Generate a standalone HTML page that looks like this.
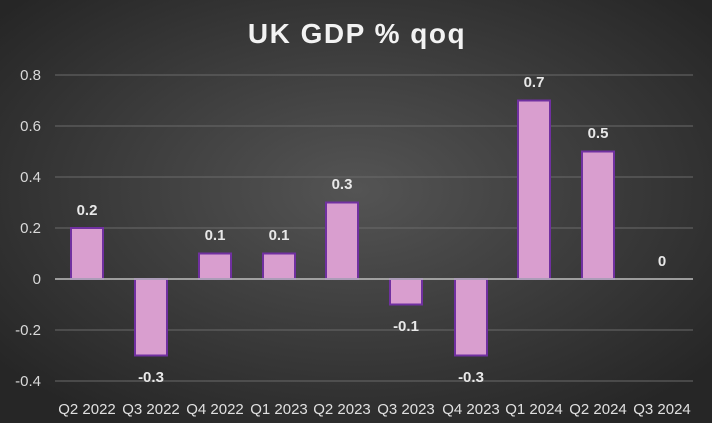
<!DOCTYPE html>
<html><head><style>
body{margin:0;}
svg{display:block;}
text{font-family:"Liberation Sans",Arial,sans-serif;}
</style></head><body>
<svg width="712" height="423" viewBox="0 0 712 423" xmlns="http://www.w3.org/2000/svg">
<defs>
<radialGradient id="bg" cx="50%" cy="45%" r="65%">
<stop offset="0" stop-color="#545454"/>
<stop offset="1" stop-color="#262626"/>
</radialGradient>
</defs>
<rect width="712" height="423" fill="url(#bg)"/>
<text x="357" y="43" text-anchor="middle" font-size="28" font-weight="bold" fill="#f2f2f2" letter-spacing="1.5">UK GDP % qoq</text>
<g stroke="#6a6a6a" stroke-width="1">
<line x1="55" x2="693" y1="75" y2="75"/>
<line x1="55" x2="693" y1="126" y2="126"/>
<line x1="55" x2="693" y1="177" y2="177"/>
<line x1="55" x2="693" y1="228" y2="228"/>
<line x1="55" x2="693" y1="330" y2="330"/>
<line x1="55" x2="693" y1="381" y2="381"/>
</g>
<g font-size="15" fill="#d9d9d9" text-anchor="end">
<text x="41" y="80">0.8</text>
<text x="41" y="131">0.6</text>
<text x="41" y="182">0.4</text>
<text x="41" y="233">0.2</text>
<text x="41" y="284">0</text>
<text x="41" y="335">-0.2</text>
<text x="41" y="386">-0.4</text>
</g>
<g fill="#d99ecf" stroke="#7030a0" stroke-width="2">
<rect x="71" y="228" width="32" height="51"/>
<rect x="135" y="279" width="32" height="76.5"/>
<rect x="199" y="253.5" width="32" height="25.5"/>
<rect x="263" y="253.5" width="32" height="25.5"/>
<rect x="326" y="202.5" width="32" height="76.5"/>
<rect x="390" y="279" width="32" height="25.5"/>
<rect x="455" y="279" width="32" height="76.5"/>
<rect x="518" y="100.5" width="32" height="178.5"/>
<rect x="582" y="151.5" width="32" height="127.5"/>
</g>
<line x1="55" x2="693" y1="279" y2="279" stroke="#bfbfbf" stroke-width="1.5"/>
<g font-size="15" font-weight="bold" fill="#e8e8e8" text-anchor="middle">
<text x="87" y="215">0.2</text>
<text x="151" y="382">-0.3</text>
<text x="215" y="240">0.1</text>
<text x="279" y="240">0.1</text>
<text x="342" y="189">0.3</text>
<text x="406" y="331">-0.1</text>
<text x="471" y="382">-0.3</text>
<text x="534" y="87">0.7</text>
<text x="598" y="138">0.5</text>
<text x="662" y="266">0</text>
</g>
<g font-size="15" fill="#e0e0e0" text-anchor="middle">
<text x="87" y="414">Q2 2022</text>
<text x="151" y="414">Q3 2022</text>
<text x="215" y="414">Q4 2022</text>
<text x="279" y="414">Q1 2023</text>
<text x="342" y="414">Q2 2023</text>
<text x="406" y="414">Q3 2023</text>
<text x="471" y="414">Q4 2023</text>
<text x="534" y="414">Q1 2024</text>
<text x="598" y="414">Q2 2024</text>
<text x="662" y="414">Q3 2024</text>
</g>
</svg>
</body></html>
